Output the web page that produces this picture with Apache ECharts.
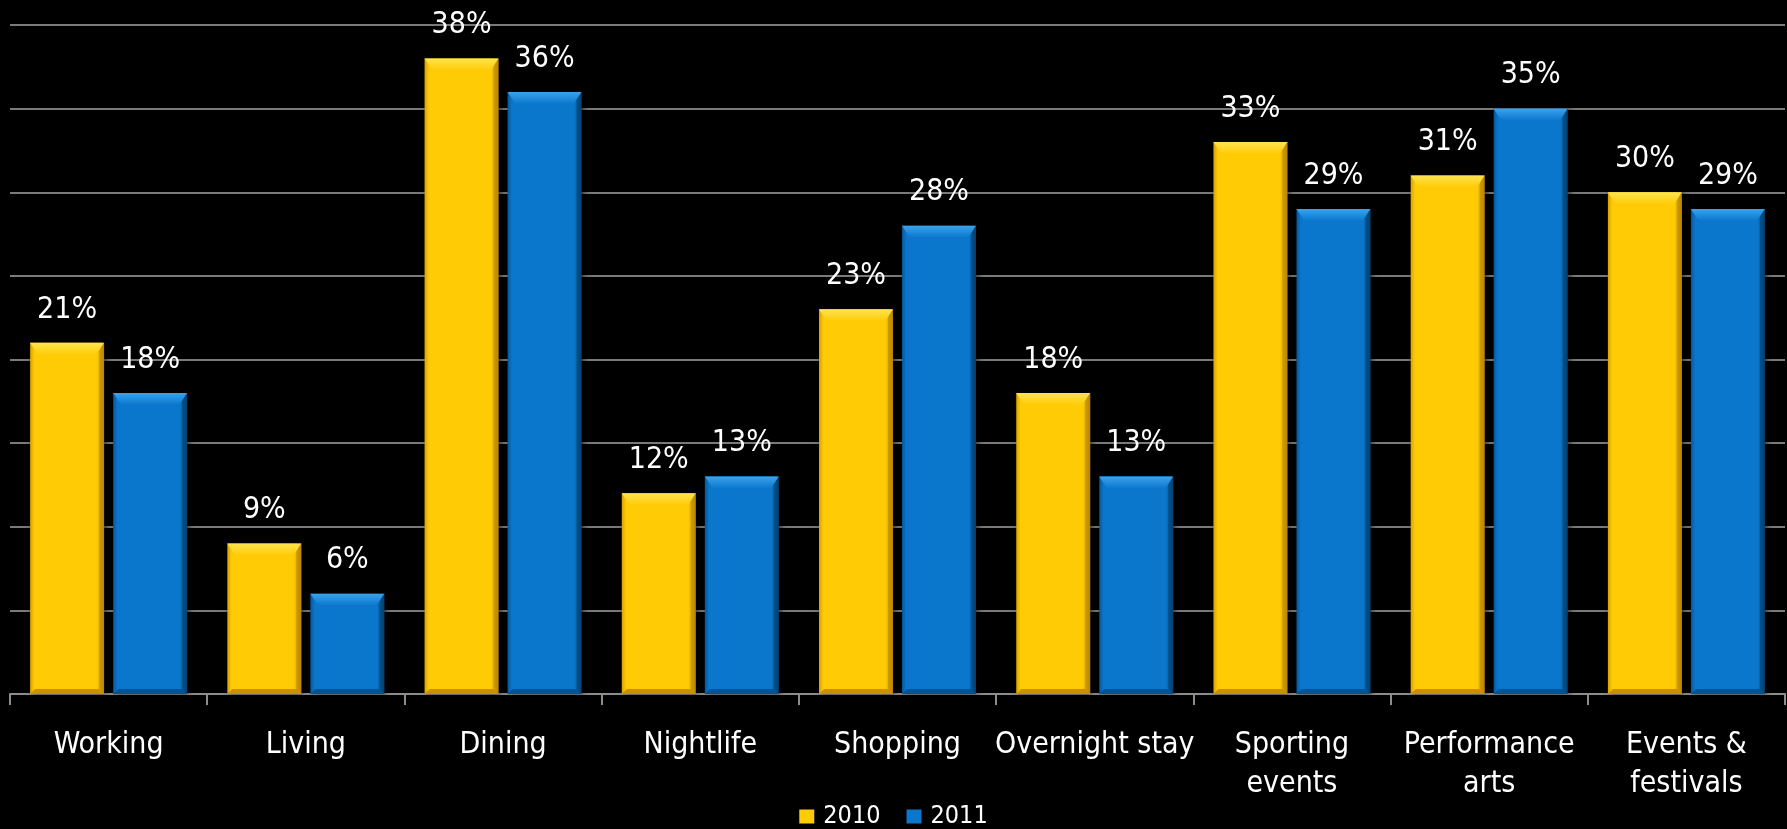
<!DOCTYPE html>
<html>
<head>
<meta charset="utf-8">
<style>
  html, body { margin: 0; padding: 0; background: #000; }
  #chart { width: 1787px; height: 829px; }
</style>
<script src="https://cdn.jsdelivr.net/npm/echarts@6/dist/echarts.min.js"></script>
</head>
<body>
<div id="chart"></div>
<script>
// Categories and yearly shares (percent)
const categories = ['Working', 'Living', 'Dining', 'Nightlife', 'Shopping', 'Overnight stay', 'Sporting\nevents', 'Performance\narts', 'Events &\nfestivals'];
const values2010 = [21, 9, 38, 12, 23, 18, 33, 31, 30];
const values2011 = [18, 6, 36, 13, 28, 13, 29, 35, 29];
const seriesNames = ['2010', '2011'];

const FONT = "'DejaVu Sans Condensed', 'Liberation Sans Narrow', sans-serif";
const BAR_RATIO = 0.375;   // bar width as share of category width
const GAP_RATIO = 0.046;   // gap between the two bars of a category

const palettes = [
  { base: '#FFCB05', edge: '#D9A200', dark: '#B98600', top: '#FFE450', bottom: '#C79200' },
  { base: '#0B77CC', edge: '#07589A', dark: '#04416F', top: '#3AA3EE', bottom: '#06538F' }
];

function bevelBar(seriesIdx) {
  const pal = palettes[seriesIdx];
  return function (params, api) {
    const ci = api.value(0);
    const v = api.value(1);
    const topPt = api.coord([ci, v]);
    const basePt = api.coord([ci, 0]);
    const catW = api.size([1, 0])[0];
    const bw = catW * BAR_RATIO;
    const gap = catW * GAP_RATIO;
    const x0 = seriesIdx === 0 ? topPt[0] - gap / 2 - bw : topPt[0] + gap / 2;
    const y0 = topPt[1];
    const h = basePt[1] - y0;
    const bt = Math.min(12, h / 3);   // top bevel depth
    const bi = 8;                     // top bevel inset
    const bb = Math.min(5, h / 4);    // bottom bevel depth
    const s = 5;                      // side shading width
    return {
      type: 'group',
      children: [
        {
          type: 'rect',
          shape: { x: x0, y: y0, width: bw, height: h },
          style: {
            fill: new echarts.graphic.LinearGradient(0, 0, 1, 0, [
              { offset: 0, color: pal.edge },
              { offset: 0.06, color: pal.base },
              { offset: 0.9, color: pal.base },
              { offset: 1, color: pal.dark }
            ]),
            shadowBlur: 6,
            shadowColor: 'rgba(0,0,0,0.6)',
            shadowOffsetX: 2
          }
        },
        {
          type: 'polygon',
          shape: { points: [[x0, y0], [x0 + bw, y0], [x0 + bw - bi, y0 + bt], [x0 + bi, y0 + bt]] },
          style: {
            fill: new echarts.graphic.LinearGradient(0, 0, 0, 1, [
              { offset: 0, color: pal.top },
              { offset: 1, color: pal.base }
            ])
          }
        },
        {
          type: 'polygon',
          shape: { points: [[x0 + bw, y0], [x0 + bw, y0 + h], [x0 + bw - s, y0 + h - bb], [x0 + bw - s, y0 + bt * 0.7]] },
          style: { fill: pal.dark, opacity: 0.55 }
        },
        {
          type: 'polygon',
          shape: { points: [[x0, y0 + h], [x0 + bw, y0 + h], [x0 + bw - s, y0 + h - bb], [x0 + s, y0 + h - bb]] },
          style: { fill: pal.bottom }
        },
        {
          type: 'text',
          x: x0 + bw / 2,
          y: y0 - 33,
          style: {
            text: v + '%',
            fill: '#ffffff',
            font: '30px ' + FONT,
            align: 'center',
            verticalAlign: 'middle'
          }
        }
      ]
    };
  };
}

const chart = echarts.init(document.getElementById('chart'), null, { renderer: 'canvas' });

chart.setOption({
  backgroundColor: '#000000',
  animation: false,
  grid: { left: 10, right: 2, top: 25, bottom: 135, containLabel: false },
  legend: {
    data: seriesNames,
    left: 'center',
    top: 799,
    itemWidth: 15,
    itemHeight: 14,
    itemGap: 26,
    icon: 'rect',
    textStyle: { color: '#ffffff', fontSize: 25, fontFamily: FONT, padding: [0, 0, 0, 4] }
  },
  xAxis: {
    type: 'category',
    data: categories,
    boundaryGap: true,
    axisLine: { show: true, lineStyle: { color: '#8c8c8c', width: 2 } },
    axisTick: { show: true, length: 11, lineStyle: { color: '#8c8c8c', width: 2 } },
    axisLabel: {
      color: '#ffffff',
      fontSize: 30,
      fontFamily: FONT,
      lineHeight: 39,
      margin: 32,
      interval: 0
    },
    splitLine: { show: false }
  },
  yAxis: {
    type: 'value',
    min: 0,
    max: 40,
    interval: 5,
    axisLine: { show: false },
    axisTick: { show: false },
    axisLabel: { show: false },
    splitLine: { show: true, lineStyle: { color: '#7a7a7a', width: 2 } }
  },
  series: [
    {
      name: seriesNames[0],
      type: 'custom',
      renderItem: bevelBar(0),
      encode: { x: 0, y: 1 },
      itemStyle: { color: palettes[0].base },
      data: values2010.map((v, i) => [i, v]),
      z: 3
    },
    {
      name: seriesNames[1],
      type: 'custom',
      renderItem: bevelBar(1),
      encode: { x: 0, y: 1 },
      itemStyle: { color: palettes[1].base },
      data: values2011.map((v, i) => [i, v]),
      z: 3
    }
  ]
});
</script>
</body>
</html>
